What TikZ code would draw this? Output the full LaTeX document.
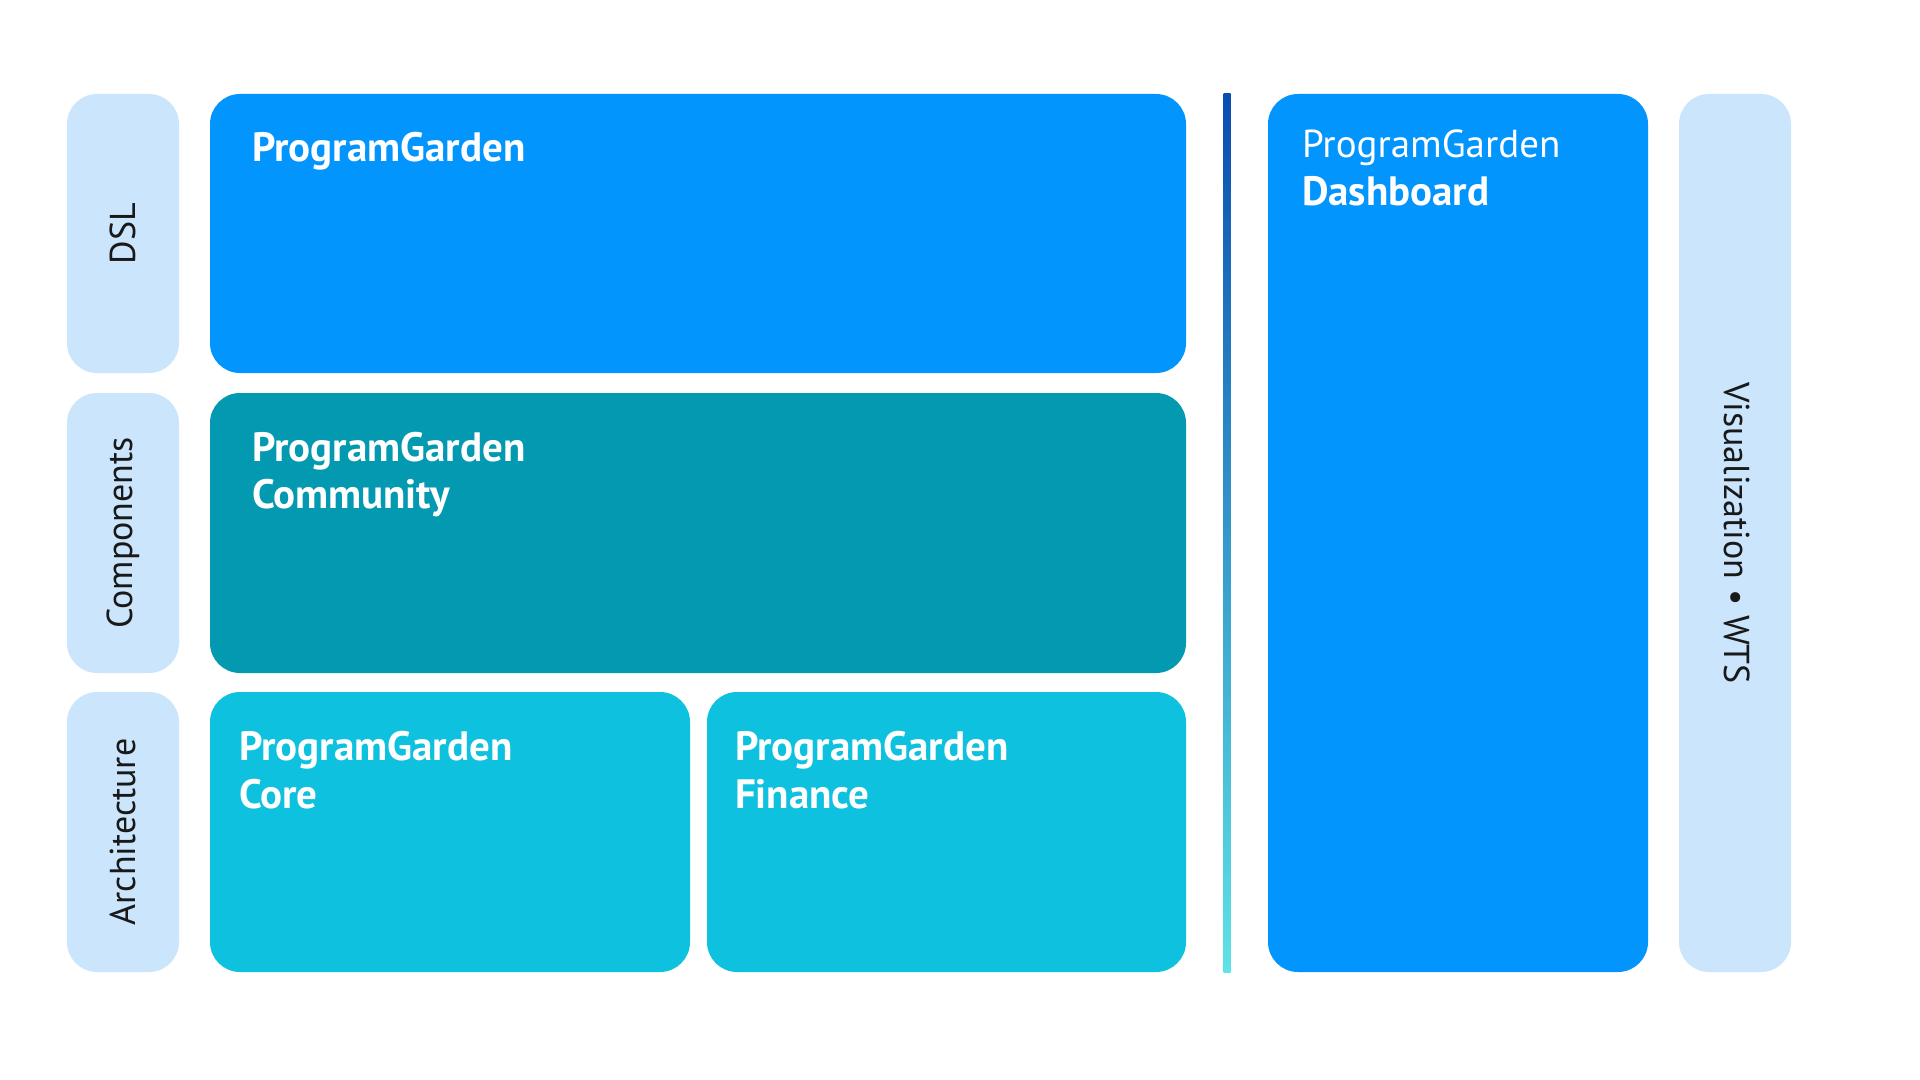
\documentclass[tikz,border=0pt]{standalone}
\usepackage{fontspec}
\setmainfont{PT Sans}
\usetikzlibrary{positioning}
\definecolor{lblue}{HTML}{CBE6FC}
\definecolor{mblue}{HTML}{0395FE}
\definecolor{teal}{HTML}{0399B1}
\definecolor{cyanb}{HTML}{0DC1DF}
\definecolor{divtop}{HTML}{0A4DB0}
\definecolor{divbot}{HTML}{5EE3E6}
\begin{document}
\begin{tikzpicture}[x=0.5pt,y=-0.5pt,
  boxbase/.style={rectangle, rounded corners=15pt, inner sep=0pt, outer sep=0pt, draw=none},
  lbl/.style={boxbase, fill=lblue, minimum width=56pt},
  title/.style={inner sep=0pt, outer sep=0pt, anchor=base west, text=white, font=\fontsize{20.5}{24}\selectfont\bfseries},
  subt/.style={inner sep=0pt, outer sep=0pt, anchor=base west, text=white, font=\fontsize{19.5}{23}\selectfont},
  lbltext/.style={inner sep=0pt, text=black!90, font=\fontsize{18}{21}\selectfont}
]
\useasboundingbox (0,0) rectangle (1920,1080);
\fill[white] (0,0) rectangle (1920,1080);
% left labels
\node[lbl, minimum height=139.5pt] (dslL) at (123,233.5) {};
\node[lbl, minimum height=140pt] (compL) at (123,533) {};
\node[lbl, minimum height=140pt] (archL) at (123,832) {};
\node[lbltext, rotate=90] (dslLt) at (dslL.center) {DSL};
\node[lbltext, rotate=90] (compLt) at (compL.center) {Components};
\node[lbltext, rotate=90] (archLt) at (archL.center) {Architecture};
% main boxes
\node[boxbase, fill=mblue, minimum width=488pt, minimum height=139.5pt] (dsl) at (698,233.5) {};
\node[boxbase, fill=teal, minimum width=488pt, minimum height=140pt] (comm) at (698,533) {};
\node[boxbase, fill=cyanb, minimum width=240pt, minimum height=140pt] (core) at (450,832) {};
\node[boxbase, fill=cyanb, minimum width=239.5pt, minimum height=140pt] (fin) at (946.5,832) {};
\node[title] (dslT) at (252,162) {ProgramGarden};
\node[title] (commT1) at (252,461) {ProgramGarden};
\node[title] (commT2) at (252,508) {Community};
\node[title] (coreT1) at (239,760) {ProgramGarden};
\node[title] (coreT2) at (239,808) {Core};
\node[title] (finT1) at (735,760) {ProgramGarden};
\node[title] (finT2) at (735,808) {Finance};
% divider
\node[rectangle, draw=none, inner sep=0pt, outer sep=0pt, top color=divtop, bottom color=divbot, minimum width=3.5pt, minimum height=439pt] (divider) at (1227,533) {};
% dashboard
\node[boxbase, fill=mblue, minimum width=190pt, minimum height=439pt] (dash) at (1458,533) {};
\node[subt] (dashT1) at (1302,158) {ProgramGarden};
\node[title] (dashT2) at (1302,206) {Dashboard};
% right label
\node[lbl, minimum height=439pt] (viz) at (1735,533) {};
\node[lbltext, rotate=-90] (vizt) at (1737,533) {Visualization • WTS};
\end{tikzpicture}
\end{document}
